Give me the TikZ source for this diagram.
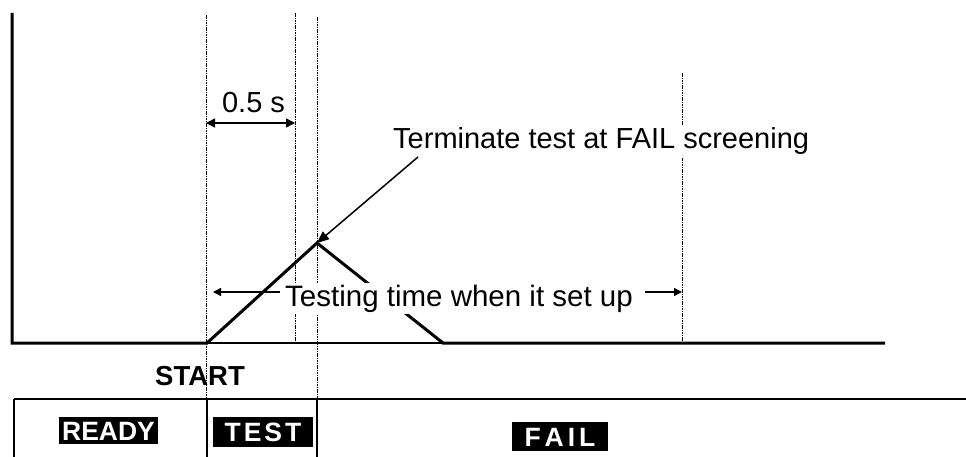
\documentclass[tikz,border=0pt]{standalone}
\usepackage{fontspec}
\setmainfont{Liberation Sans}
\usetikzlibrary{arrows.meta}
\tikzset{
  thickline/.style={line width=3pt},
  thinline/.style={line width=1.5pt},
  dotline/.style={line width=1pt, dash pattern=on 1.6pt off 0.8pt},
  lbl/.style={font=\fontsize{29}{34}\selectfont, inner sep=2pt},
  boldlbl/.style={font=\bfseries\fontsize{27.5}{32}\selectfont, inner sep=0pt},
  blk/.style={fill=black, text=white, font=\bfseries\fontsize{26.5}{30}\selectfont,
    inner sep=0pt, text height=19pt, text depth=0pt, anchor=center},
  dimarr/.style={line width=1.5pt, {Triangle[length=9pt,width=9pt]}-{Triangle[length=9pt,width=9pt]}},
  arr/.style={line width=1.5pt, -{Triangle[length=8pt,width=8pt]}},
  leadarr/.style={line width=1.5pt, -{Triangle[length=12pt,width=10pt]}},
}
\begin{document}
\begin{tikzpicture}[x=1pt,y=-1pt]
\useasboundingbox (0,0) rectangle (966,457);
% key points
\coordinate (axtop) at (12,13);
\coordinate (orig) at (12,343);
\coordinate (start) at (207,343);
\coordinate (peak) at (317,243);
\coordinate (fallend) at (443,343);
\coordinate (lineend) at (885,343);
% dotted guide lines
\coordinate (d1t) at (206,15);  \coordinate (d1b) at (206,399);
\coordinate (d2t) at (295,13);  \coordinate (d2b) at (295,343);
\coordinate (d3t) at (317,17);  \coordinate (d3b) at (317,399);
\coordinate (d4t) at (682,73);  \coordinate (d4b) at (682,343);
\draw[dotline] (d1t) -- (d1b);
\draw[dotline] (d2t) -- (d2b);
\draw[dotline] (d3t) -- (d3b);
\draw[dotline] (d4t) -- (d4b);
% axis and signal
\draw[thinline] (start) -- (fallend);
\draw[thickline, line join=miter] (axtop) -- (orig) -- (start) -- (peak) -- (fallend) -- (lineend);
% 0.5 s dimension
\coordinate (h1) at (206,123);
\coordinate (h2) at (295,123);
\draw[dimarr] (h1) -- (h2);
\node[lbl, anchor=base, inner sep=0pt] (half) at (253.5,113) {0.5 s};
% testing time
\coordinate (tl1) at (280,292); \coordinate (tl2) at (213,292);
\coordinate (tr1) at (645,292); \coordinate (tr2) at (682,292);
\node[lbl, font=\fontsize{29.5}{34}\selectfont, fill=white, anchor=base west] (tt) at (283,306) {Testing time when it set up};
\draw[arr] (tl1) -- (tl2);
\draw[arr] (tr1) -- (tr2);
% terminate annotation
\node[lbl, fill=white, anchor=base west, inner ysep=3pt] (term) at (391,149) {Terminate test at FAIL screening};
\coordinate (lead) at (418,157);
\draw[leadarr] (lead) -- (peak);
% START
\node[boldlbl, anchor=base] (startlbl) at (200,385) {START};
% table
\coordinate (tbl) at (14,399); \coordinate (tbr) at (966,399);
\coordinate (tbb) at (14,457);
\coordinate (v1t) at (207,399); \coordinate (v1b) at (207,457);
\coordinate (v2t) at (317,399); \coordinate (v2b) at (317,457);
\draw[line width=2pt] (tbr) -- (tbl);
\draw[thinline] (tbl) -- (tbb);
\draw[thinline] (v1t) -- (v1b);
\draw[thinline] (v2t) -- (v2b);
\node[blk, minimum width=99pt, minimum height=27pt] (ready) at (108.5,430.5) {READY};
\node[blk, minimum width=100pt, minimum height=30pt] (test) at (263,432) {T\kern3pt E\kern3pt S\kern3pt T};
\node[blk, minimum width=96pt, minimum height=29pt] (fail) at (560,436.5) {F\kern4pt A\kern4pt I\kern4pt L};
\end{tikzpicture}
\end{document}
